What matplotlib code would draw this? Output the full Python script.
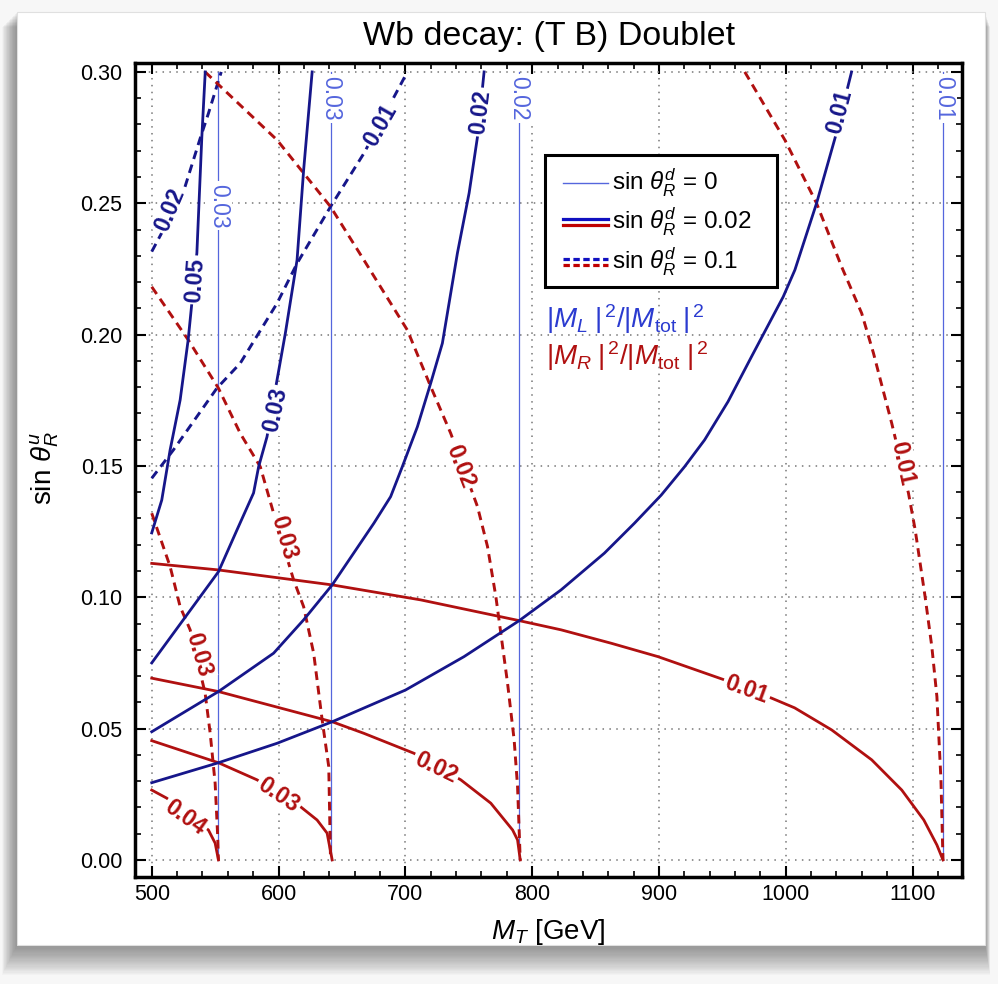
import matplotlib
matplotlib.use('Agg')
import matplotlib.pyplot as plt
import numpy as np
from matplotlib.lines import Line2D
from matplotlib.ticker import FormatStrFormatter, MultipleLocator
import matplotlib.patches as mpatches

plt.rcParams['font.family'] = ['Liberation Sans', 'DejaVu Sans']
plt.rcParams['mathtext.fontset'] = 'custom'
plt.rcParams['mathtext.rm'] = 'Liberation Sans'
plt.rcParams['mathtext.it'] = 'Liberation Sans:italic'
plt.rcParams['mathtext.bf'] = 'Liberation Sans:bold'

# ---------------- data ----------------
# sin(theta_R^d) = 0 : |M_L|^2/|M_tot|^2 contours are vertical lines
d0_mt = [552.6, 641.0, 789.6, 1124.3]
d0_labels = ['0.03', '0.03', '0.02', '0.01']
d0_label_s = [0.249, 0.290, 0.290, 0.290]

# sin(theta_R^d) = 0.02 : |M_L|^2 (blue, solid)
L002_a_mt = [500, 507.9, 514.5, 522.4, 528.7, 535.6, 539.5, 542.2]
L002_a_s = [0.1245, 0.1370, 0.1561, 0.1751, 0.1979, 0.2311, 0.2752, 0.300]
L002_b_mt = [500, 552.6, 567.2, 580.3, 584.3, 590.9, 598.8, 605.4, 614.6, 619.8, 626.5]
L002_b_s = [0.0750, 0.1097, 0.1256, 0.1397, 0.1497, 0.1611, 0.1827, 0.2006, 0.2284, 0.2627, 0.300]
L002_c_mt = [500, 552.6, 596.1, 619.8, 642.3, 675.2, 688.4, 697.6, 709.5, 720.0, 729.2, 741.1, 750.3, 756.9, 762.1]
L002_c_s = [0.0488, 0.0641, 0.0787, 0.0914, 0.1047, 0.1282, 0.1383, 0.1497, 0.1649, 0.1815, 0.1967, 0.2311, 0.2539, 0.2753, 0.300]
L002_d_mt = [500, 552.6, 598.8, 642.3, 700.2, 746.3, 789.8, 822.8, 857.0, 880.7, 901.8, 920.2, 936.0, 954.5, 973.0, 998.0, 1007.2, 1024.3, 1038.8, 1051.9]
L002_d_s = [0.0294, 0.0370, 0.0444, 0.0526, 0.0647, 0.0774, 0.0911, 0.1028, 0.1168, 0.1282, 0.1389, 0.1497, 0.1599, 0.1745, 0.1916, 0.2144, 0.2246, 0.2500, 0.2747, 0.300]
L002_labels = ['0.05', '0.03', '0.02', '0.01']
L002_label_mt = [534.4, 597.5, 759.5, 1042.5]
L002_label_s = [0.2208, 0.1713, 0.2847, 0.2847]

# sin(theta_R^d) = 0.1 : |M_L|^2 (blue, dashed)
L01_a_mt = [500, 524.7, 538.2, 544.7, 554.8]
L01_a_s = [0.2316, 0.2539, 0.2747, 0.2842, 0.300]
L01_b_mt = [500, 517.1, 551.4, 569.8, 598.8, 614.6, 641.0, 667.3, 701.6]
L01_b_s = [0.1453, 0.1561, 0.1796, 0.1891, 0.2119, 0.2271, 0.2487, 0.2690, 0.300]
L01_labels = ['0.02', '0.01']
L01_label_mt = [514.5, 680.5]
L01_label_s = [0.2474, 0.2798]

# sin(theta_R^d) = 0.02 : |M_R|^2 (red, solid)
R002_a_mt = [500, 552.6, 642.3, 712.1, 789.8, 822.8, 862.3, 899.2, 951.9, 988.8, 1007.0, 1036.2, 1067.8, 1091.5, 1108.9, 1119.2, 1124.0]
R002_a_s = [0.1129, 0.1104, 0.1047, 0.0990, 0.0911, 0.0876, 0.0825, 0.0774, 0.0685, 0.0616, 0.0579, 0.0495, 0.0381, 0.0266, 0.0152, 0.0057, 0.0]
R002_b_mt = [500, 552.6, 642.3, 667.3, 706.8, 743.7, 767.4, 784.6, 788.5, 790.6]
R002_b_s = [0.0692, 0.0641, 0.0526, 0.0482, 0.0406, 0.0305, 0.0216, 0.0114, 0.0076, 0.0]
R002_c_mt = [500, 552.6, 583.0, 617.2, 630.4, 638.3, 642.3]
R002_c_s = [0.0454, 0.0370, 0.0305, 0.0203, 0.0152, 0.0102, 0.0]
R002_d_mt = [500, 511.9, 544.7, 550.0, 552.6]
R002_d_s = [0.0266, 0.0235, 0.0114, 0.0064, 0.0]
R002_labels = ['0.01', '0.02', '0.03', '0.04']
R002_label_mt = [969.0, 724.0, 600.0, 526.0]
R002_label_s = [0.0647, 0.0350, 0.0247, 0.0160]

# sin(theta_R^d) = 0.1 : |M_R|^2 (red, dashed)
R01_a_mt = [500, 514.5, 522.4, 530.3, 542.1, 546.1, 550.0, 551.9, 552.6]
R01_a_s = [0.132, 0.1117, 0.0964, 0.0876, 0.0635, 0.0482, 0.0292, 0.0102, 0.0]
R01_b_mt = [500, 528.9, 552.6, 569.8, 585.6, 596.1, 611.9, 619.8, 627.7, 634.4, 639.6, 641.0]
R01_b_s = [0.2182, 0.1979, 0.1796, 0.1624, 0.1497, 0.1320, 0.1066, 0.0964, 0.0787, 0.0533, 0.0355, 0.0]
R01_c_mt = [542.1, 598.8, 641.0, 667.3, 701.6, 720.0, 735.8, 756.9, 764.8, 771.4, 775.3, 780.6, 785.8, 788.5, 790.6]
R01_c_s = [0.300, 0.2741, 0.2487, 0.2284, 0.2017, 0.1802, 0.1624, 0.1345, 0.1193, 0.1002, 0.0863, 0.0673, 0.0457, 0.0279, 0.0]
R01_d_mt = [967.7, 999.3, 1024.3, 1044.1, 1059.9, 1069.2, 1075.7, 1083.6, 1096.8, 1102.1, 1109.9, 1115.2, 1119.2, 1122.4, 1124.0]
R01_d_s = [0.300, 0.2741, 0.2500, 0.2258, 0.2081, 0.1929, 0.1808, 0.1662, 0.1396, 0.1256, 0.1002, 0.0812, 0.0622, 0.0305, 0.0]
R01_labels = ['0.03', '0.03', '0.02', '0.01']
R01_label_mt = [536.7, 603.8, 743.7, 1091.7]
R01_label_s = [0.078, 0.1226, 0.150, 0.151]

legend_labels = [r'sin $\theta_R^d$ = 0', r'sin $\theta_R^d$ = 0.02', r'sin $\theta_R^d$ = 0.1']
ann_texts = [r'$|M_L\;|^{\,2}/|M_{\mathrm{tot}}\;|^{\,2}$', r'$|M_R\;|^{\,2}/|M_{\mathrm{tot}}\;|^{\,2}$']

# ---------------- style ----------------
NAVY = '#16168a'
THIN = '#5566dd'
RED = '#b01010'
ANN_BLUE = '#2b3bd0'
LABEL_FS = 16.5

W, H = 998, 984
fig = plt.figure(figsize=(W / 100, H / 100), dpi=100)
fig.patch.set_facecolor('#f7f7f7')


def fx(px):
    return px / W


def fy(py):
    return 1 - py / H


# card with soft shadow
cx0, cy0, cx1, cy1 = 17, 12, 985, 945
for k in range(1, 26):
    sh = mpatches.Rectangle((fx(cx0 - k * 0.6), fy(cy1 + k * 1.2)),
                            (cx1 - cx0 + k * 0.8) / W, (cy1 - cy0 + k * 0.6) / H,
                            transform=fig.transFigure, facecolor='#303030', edgecolor='none',
                            alpha=0.022, zorder=-20)
    fig.patches.append(sh)
card = mpatches.Rectangle((fx(cx0), fy(cy1)), (cx1 - cx0) / W, (cy1 - cy0) / H,
                          transform=fig.transFigure, facecolor='white', edgecolor='#e0e0e0',
                          lw=0.8, zorder=-10)
fig.patches.append(card)

ax = fig.add_axes([fx(135), fy(877), (962 - 135) / W, (877 - 63) / H])
ax.set_zorder(1)
ax.set_xlim(486.8, 1139.0)
ax.set_ylim(-0.0065, 0.3034)

ax.set_xticks(np.arange(500, 1101, 100))
ax.xaxis.set_minor_locator(MultipleLocator(20))
ax.set_yticks(np.arange(0, 0.301, 0.05))
ax.yaxis.set_minor_locator(MultipleLocator(0.01))
ax.yaxis.set_major_formatter(FormatStrFormatter('%.2f'))
ax.tick_params(which='both', direction='in', top=True, right=True, labelsize=15.5, colors='black')
ax.tick_params(which='major', length=8, width=1.5)
ax.tick_params(which='minor', length=4, width=1.2)
ax.tick_params(axis='x', which='major', pad=5)
ax.tick_params(axis='y', which='major', pad=9)
for sp in ax.spines.values():
    sp.set_linewidth(2.5)
ax.grid(True, which='major', ls=(0, (1, 3.5)), color='#777777', lw=1.1, zorder=0)
ax.set_axisbelow(True)

fig.text(fx(548), fy(932), r'$M_T$ [GeV]', ha='center', va='center', fontsize=20)
fig.text(fx(45), fy(468), r'sin $\theta_R^u$', ha='center', va='center', fontsize=20, rotation=90)
fig.text(fx(549), fy(37), 'Wb decay: (T B) Doublet', ha='center', va='center', fontsize=24.5)


def label_rotation(mt, s, xy):
    pts = ax.transData.transform(np.column_stack([mt, s]))
    lp = ax.transData.transform([xy])[0]
    d = pts - lp
    i = int(np.argmin(np.hypot(d[:, 0], d[:, 1])))
    j0, j1 = max(i - 1, 0), min(i + 1, len(mt) - 1)
    v = pts[j1] - pts[j0]
    ang = np.degrees(np.arctan2(v[1], v[0]))
    if ang > 90:
        ang -= 180
    if ang <= -90:
        ang += 180
    return ang


def put_label(xy, text, color, rot, bold=True, size=LABEL_FS):
    ax.text(xy[0], xy[1], text, rotation=rot, rotation_mode='anchor', ha='center', va='center',
            color=color, fontsize=size, fontweight='bold' if bold else 'normal',
            bbox=dict(boxstyle='square,pad=0.1', fc='white', ec='none'), zorder=6)


# thin vertical lines
for m, lab, ls_ in zip(d0_mt, d0_labels, d0_label_s):
    ax.plot([m, m], [0, 0.30], color=THIN, lw=0.9, zorder=2)
    put_label((m, ls_), lab, THIN, -90, bold=False)

DASH = (0, (3.0, 2.0))
curves = [
    (L01_a_mt, L01_a_s, NAVY, DASH, 2.1, L01_labels[0], (L01_label_mt[0], L01_label_s[0])),
    (L01_b_mt, L01_b_s, NAVY, DASH, 2.1, L01_labels[1], (L01_label_mt[1], L01_label_s[1])),
    (R01_a_mt, R01_a_s, RED, DASH, 2.1, R01_labels[0], (R01_label_mt[0], R01_label_s[0])),
    (R01_b_mt, R01_b_s, RED, DASH, 2.1, R01_labels[1], (R01_label_mt[1], R01_label_s[1])),
    (R01_c_mt, R01_c_s, RED, DASH, 2.1, R01_labels[2], (R01_label_mt[2], R01_label_s[2])),
    (R01_d_mt, R01_d_s, RED, DASH, 2.1, R01_labels[3], (R01_label_mt[3], R01_label_s[3])),
    (R002_a_mt, R002_a_s, RED, '-', 2.0, R002_labels[0], (R002_label_mt[0], R002_label_s[0])),
    (R002_b_mt, R002_b_s, RED, '-', 2.0, R002_labels[1], (R002_label_mt[1], R002_label_s[1])),
    (R002_c_mt, R002_c_s, RED, '-', 2.0, R002_labels[2], (R002_label_mt[2], R002_label_s[2])),
    (R002_d_mt, R002_d_s, RED, '-', 2.0, R002_labels[3], (R002_label_mt[3], R002_label_s[3])),
    (L002_a_mt, L002_a_s, NAVY, '-', 2.0, L002_labels[0], (L002_label_mt[0], L002_label_s[0])),
    (L002_b_mt, L002_b_s, NAVY, '-', 2.0, L002_labels[1], (L002_label_mt[1], L002_label_s[1])),
    (L002_c_mt, L002_c_s, NAVY, '-', 2.0, L002_labels[2], (L002_label_mt[2], L002_label_s[2])),
    (L002_d_mt, L002_d_s, NAVY, '-', 2.0, L002_labels[3], (L002_label_mt[3], L002_label_s[3])),
]
for mt, s, col, ls, lw, lab, pos in curves:
    ax.plot(mt, s, color=col, ls=ls, lw=lw, zorder=3 + (0.5 if ls == '-' else 0))
    rot = label_rotation(mt, s, pos)
    put_label(pos, lab, col, rot)

# ---------------- legend (frame, handles, texts) ----------------
lx0, ly0, lx1, ly1 = 545, 155, 777, 287
row_y = [183, 222, 262]
hx0, hx1, tx = 563, 608, 612
fig.patches.append(mpatches.Rectangle((fx(lx0), fy(ly1)), (lx1 - lx0) / W, (ly1 - ly0) / H,
                                      transform=fig.transFigure, facecolor='white', edgecolor='black',
                                      lw=2.2, zorder=20))
fig.add_artist(Line2D([fx(hx0), fx(hx1)], [fy(row_y[0])] * 2, transform=fig.transFigure,
                      color=THIN, lw=1.0, zorder=21))
for r, ls in ((1, '-'), (2, (0, (2.0, 1.1)))):
    fig.add_artist(Line2D([fx(hx0), fx(hx1)], [fy(row_y[r] - 3)] * 2, transform=fig.transFigure,
                          color='#1010c0', lw=2.3, ls=ls, zorder=21))
    fig.add_artist(Line2D([fx(hx0), fx(hx1)], [fy(row_y[r] + 3)] * 2, transform=fig.transFigure,
                          color='#c00000', lw=2.3, ls=ls, zorder=21))
for r, lab in enumerate(legend_labels):
    fig.text(fx(tx), fy(row_y[r]), lab, ha='left', va='center', fontsize=17.5, zorder=22)

ax.text(810.9, 0.2059, ann_texts[0], color=ANN_BLUE, fontsize=20, ha='left', va='center', zorder=7)
ax.text(810.9, 0.1917, ann_texts[1], color=RED, fontsize=20, ha='left', va='center', zorder=7)

fig.savefig('out.png', dpi=100, facecolor=fig.get_facecolor())
